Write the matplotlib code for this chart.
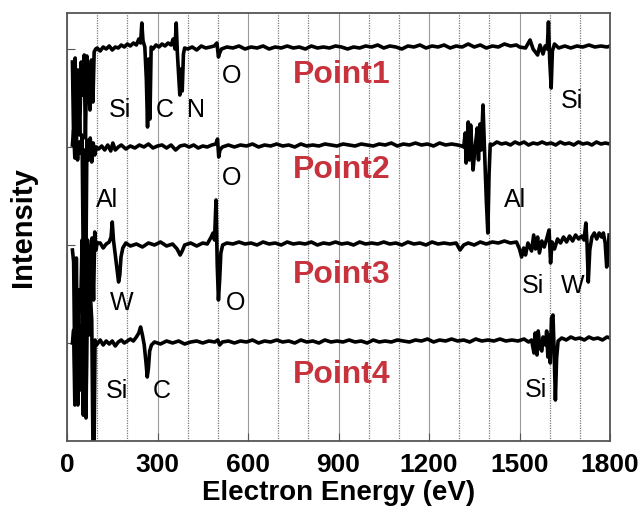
import numpy as np
import matplotlib
matplotlib.use('Agg')
from matplotlib import pyplot as plt
from matplotlib.ticker import MultipleLocator

plt.rcParams['font.family'] = ['Liberation Sans', 'DejaVu Sans']

# spectra: (energy eV, intensity relative to own baseline)
point1 = [(18,-13),(22,-91),(27,-9),(31,-99),(36,-21),(42,-86),(47,-13),(52,-46),(57,-6),
          (61,-89),(66,-7),(71,-26),(76,-61),(81,-11),(86,-53),(90,-3),(95,0),
          (100,1),(110,-2),(120,2),(130,0),(140,3),(150,-1),(160,2),(170,1),(180,4),(190,2),
          (200,5),(210,3),(220,6),(230,4),(238,10),(244,6),(248,26),(252,8),(258,2),(263,-30),
          (267,-78),(271,-10),(275,-70),(279,2),(285,0),(295,4),(305,2),(315,5),(325,3),(335,6),
          (345,4),(352,10),(358,0),(362,26),(366,-5),(370,-25),(374,-46),(378,-20),(382,-42),
          (386,-5),(390,1),(400,0),(415,2),(430,-1),(445,3),(460,1),(475,2),(488,3),(497,6),
          (502,-8),(506,-4),(512,0),(530,2),(550,1),(570,3),(590,0),(610,2),(630,1),(650,3),
          (670,0),(690,2),(710,1),(730,3),(750,1),(770,2),(790,0),(810,3),(830,1),(850,2),
          (870,1),(890,3),(910,2),(930,0),(950,2),(970,1),(990,3),(1010,2),(1030,4),(1050,1),
          (1070,3),(1090,2),(1110,0),(1130,3),(1150,2),(1170,4),(1190,1),(1210,3),(1230,2),
          (1250,4),(1270,1),(1290,3),(1310,2),(1330,5),(1350,2),(1370,4),(1390,1),(1410,3),
          (1430,2),(1450,5),(1470,3),(1490,4),(1500,2),(1520,1),(1535,9),(1545,0),(1560,-6),
          (1568,4),(1578,-5),(1585,3),(1592,0),(1596,27),(1600,-10),(1605,-39),(1609,-2),
          (1616,5),(1630,1),(1650,3),(1670,1),(1690,3),(1710,2),(1730,4),(1750,2),(1770,3),
          (1790,2),(1800,3)]

point2 = [(18,2),(22,17),(26,-11),(30,9),(35,-13),(40,5),(45,-6),(50,12),(55,-153),(58,-3),
          (62,-143),(66,7),(72,-13),(77,9),(82,-15),(87,4),(92,-8),(97,0),(105,-2),(115,1),
          (125,-3),(135,2),(145,-4),(152,4),(160,-3),(170,0),(180,2),(195,-2),(210,1),(225,-1),
          (240,2),(255,0),(270,3),(285,-1),(300,1),(315,2),(330,-1),(345,2),(360,-3),(375,1),
          (390,2),(405,0),(420,2),(435,-1),(450,1),(465,0),(480,2),(493,3),(499,8),(503,-10),
          (507,-3),(515,0),(535,2),(555,0),(575,2),(595,1),(615,3),(635,0),(655,2),(675,1),
          (695,3),(715,1),(735,2),(755,0),(775,3),(795,1),(815,2),(835,1),(855,3),(875,2),
          (895,1),(915,3),(935,2),(955,1),(975,3),(995,2),(1015,1),(1035,3),(1055,2),(1075,4),
          (1095,1),(1115,3),(1135,2),(1155,4),(1175,2),(1195,3),(1215,1),(1235,4),(1255,2),
          (1275,3),(1295,2),(1308,1),(1315,0),(1320,14),(1323,-16),(1330,25),(1334,-13),
          (1338,22),(1346,-23),(1352,-3),(1360,19),(1364,-13),(1369,23),(1373,-3),(1379,42),
          (1384,-3),(1390,-53),(1395,-86),(1399,-28),(1403,3),(1410,2),(1425,5),(1440,3),
          (1455,4),(1470,2),(1485,5),(1500,3),(1515,5),(1530,2),(1545,4),(1560,3),(1575,5),
          (1590,3),(1605,4),(1620,2),(1635,5),(1650,3),(1665,4),(1680,2),(1695,5),(1710,3),
          (1725,4),(1740,2),(1755,5),(1770,3),(1785,4),(1800,3)]

point3 = [(18,-5),(22,-17),(27,-155),(31,-13),(36,-160),(41,-45),(46,-55),(50,5),(55,-170),
          (59,-25),(63,-165),(68,5),(73,-85),(78,-13),(83,7),(88,-55),(92,13),(96,-5),(100,2),
          (110,2),(120,-3),(130,1),(140,3),(146,8),(150,23),(154,5),(160,-10),(166,-25),
          (171,-37),(175,-30),(179,-12),(185,-3),(195,2),(210,-1),(230,1),(250,-2),(270,2),
          (290,0),(310,3),(330,-1),(350,1),(365,-4),(375,-10),(382,-6),(390,0),(410,2),(430,-1),
          (450,2),(465,1),(478,8),(484,12),(489,5),(494,45),(498,-20),(502,-55),(506,-35),
          (510,-8),(516,0),(530,2),(550,1),(570,3),(590,1),(610,2),(630,0),(650,3),(670,1),
          (690,2),(710,0),(730,3),(750,1),(770,2),(790,1),(810,3),(830,0),(850,2),(870,1),
          (890,3),(910,1),(930,2),(950,0),(970,3),(990,1),(1010,2),(1030,1),(1050,3),(1070,1),
          (1090,2),(1110,0),(1130,3),(1150,1),(1170,2),(1190,0),(1210,3),(1230,1),(1250,2),
          (1270,1),(1290,2),(1303,-5),(1315,0),(1330,2),(1350,0),(1370,3),(1390,1),(1410,3),
          (1430,2),(1450,4),(1470,2),(1490,3),(1500,-4),(1507,-12),(1514,-3),(1520,-10),
          (1528,2),(1540,-6),(1547,10),(1553,-4),(1560,8),(1566,-8),(1574,4),(1582,-2),(1590,6),
          (1598,15),(1603,-18),(1608,3),(1616,-4),(1626,6),(1636,2),(1646,8),(1656,3),(1666,9),
          (1676,4),(1686,10),(1696,6),(1706,9),(1714,5),(1720,22),(1724,0),(1728,-37),(1733,-5),
          (1740,8),(1748,12),(1756,6),(1764,12),(1772,8),(1778,12),(1784,2),(1789,-22),
          (1793,-8),(1797,10)]

point4 = [(18,0),(22,13),(26,-62),(30,13),(34,-57),(38,25),(44,-47),(49,18),(54,-72),(58,43),
          (63,-75),(67,48),(72,8),(77,51),(82,23),(86,-102),(90,-97),(93,3),(98,-2),(110,3),
          (120,-2),(130,2),(140,-1),(150,2),(160,-3),(170,1),(180,3),(190,0),(200,2),(210,4),
          (220,2),(230,6),(238,10),(244,16),(250,8),(256,-2),(262,-20),(266,-34),(270,-25),
          (274,-8),(280,-2),(290,1),(310,-1),(330,2),(350,0),(370,2),(390,-1),(410,1),(430,2),
          (450,0),(470,2),(490,1),(500,3),(506,-2),(515,1),(535,2),(555,0),(575,2),(595,1),
          (615,3),(635,0),(655,2),(675,1),(695,3),(715,1),(735,2),(755,0),(775,3),(795,1),
          (815,2),(835,0),(855,3),(875,1),(895,2),(915,1),(935,3),(955,1),(975,2),(995,0),
          (1015,3),(1035,1),(1055,2),(1075,1),(1095,3),(1115,2),(1135,1),(1155,3),(1175,2),
          (1195,4),(1215,1),(1235,3),(1255,2),(1275,4),(1295,2),(1315,3),(1335,1),(1355,4),
          (1375,2),(1395,3),(1415,2),(1435,4),(1455,2),(1475,3),(1495,2),(1515,4),(1530,1),
          (1540,3),(1548,-10),(1552,10),(1558,-12),(1562,12),(1568,-5),(1574,-8),(1578,6),
          (1586,-2),(1590,12),(1594,-14),(1598,8),(1602,-20),(1606,25),(1611,28),(1615,-10),
          (1619,-57),(1623,-15),(1628,2),(1640,5),(1655,3),(1670,6),(1685,4),(1700,5),
          (1715,3),(1730,6),(1745,4),(1760,5),(1775,3),(1790,6),(1800,5)]

spectra = [point1, point2, point3, point4]
spectrum_names = ['Point1', 'Point2', 'Point3', 'Point4']

# element labels: text, energy, height on the intensity scale
peak_text = ['Si', 'C', 'N', 'O', 'Si', 'Al', 'O', 'Al', 'W', 'O', 'Si', 'W', 'Si', 'C', 'Si']
peak_ev = [174, 323, 428, 547, 1674, 133, 547, 1485, 182, 560, 1545, 1677, 166, 315, 1555]
peak_y = [324, 324, 324, 358, 333, 234, 256, 234, 131, 131, 148, 148, 43, 43, 44]

xticks = [0, 300, 600, 900, 1200, 1500, 1800]


def main():
    offsets = [392, 294, 196, 98]
    name_y = [358, 263, 158, 58]

    fig = plt.figure(figsize=(6.44, 5.13), dpi=100)
    ax = fig.add_axes([67/644, 72/513, 543/644, 428/513])

    for spec, off in zip(spectra, offsets):
        ev = np.array([p[0] for p in spec])
        val = np.array([p[1] for p in spec]) + off
        ax.plot(ev, val, color='black', lw=2.6)

    for name, y in zip(spectrum_names, name_y):
        ax.text(912, y, name, color='#c8323c', fontsize=23, fontweight='bold',
                ha='center', va='baseline')

    for t, x, y in zip(peak_text, peak_ev, peak_y):
        ax.text(x, y, t, fontsize=18, ha='center', va='baseline', color='black')

    ax.set_xlim(0, 1800)
    ax.set_ylim(0, 428)
    ax.set_xticks(xticks)
    ax.xaxis.set_minor_locator(MultipleLocator(100))
    ax.set_yticks(offsets)
    ax.set_yticklabels([])
    ax.grid(which='major', axis='x', color='#9a9a9a', lw=0.8)
    ax.grid(which='minor', axis='x', color='#7a7a7a', lw=0.9, ls=(0, (1, 1)))
    ax.set_axisbelow(True)
    ax.tick_params(axis='both', which='major', direction='in', length=6, color='#555555')
    ax.tick_params(axis='x', which='minor', length=0)
    ax.tick_params(axis='x', pad=9)
    for lab in ax.get_xticklabels():
        lab.set_fontweight('bold')
        lab.set_fontsize(19)
    for s in ax.spines.values():
        s.set_color('#555555')
        s.set_linewidth(1.3)

    ax.set_xlabel('Electron Energy (eV)', fontsize=20, fontweight='bold', labelpad=2)
    ax.set_ylabel('Intensity', fontsize=21, fontweight='bold')
    ax.yaxis.set_label_coords(-0.056, 0.5)

    fig.savefig('out.png', dpi=100)


main()
